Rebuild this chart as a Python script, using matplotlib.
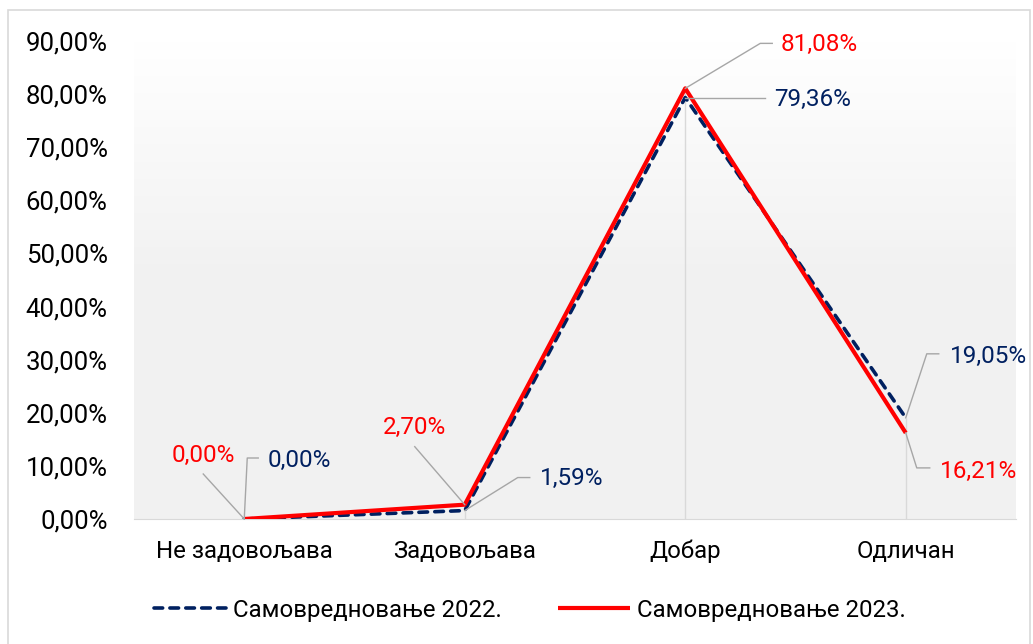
# Самовредновање 2022. vs 2023. - line chart with leader-line data labels
import numpy as np
import matplotlib.pyplot as plt
from matplotlib.patches import Rectangle
from matplotlib.transforms import ScaledTranslation

categories = ['Не задовољава', 'Задовољава', 'Добар', 'Одличан']
vals_2022 = [0.00, 1.59, 79.36, 19.05]
vals_2023 = [0.00, 2.70, 81.08, 16.21]
labels_2022 = ['0,00%', '1,59%', '79,36%', '19,05%']
labels_2023 = ['0,00%', '2,70%', '81,08%', '16,21%']
series_names = ['Самовредновање 2022.', 'Самовредновање 2023.']
y_ticks = [0, 10, 20, 30, 40, 50, 60, 70, 80, 90]

navy = '#002060'
red = '#FF0000'
grey_line = '#A6A6A6'
light = '#D9D9D9'

plt.rcParams['font.family'] = ['Roboto', 'DejaVu Sans']

W, H = 1033, 644
fig = plt.figure(figsize=(W / 100, H / 100), dpi=100)
ax = fig.add_axes([134 / W, 125 / H, 882 / W, 478 / H])

x = np.arange(len(categories))
ax.set_xlim(-0.5, len(categories) - 0.5)
ax.set_ylim(0, 90)

# gradient background of the plot area
g = np.concatenate([np.linspace(1.0, 0.949, 120), np.full(136, 0.949)])
grad = np.stack([g, g, g], axis=-1)[:, None, :].repeat(2, axis=1)
ax.imshow(grad, extent=[0, 1, 0, 1], transform=ax.transAxes, aspect='auto', zorder=0)

# drop lines
tops = np.maximum(vals_2022, vals_2023)
for xi, t in zip(x, tops):
    if t > 0:
        ax.vlines(xi, 0, t, color=light, lw=1, zorder=1)

ax.plot(x, vals_2022, color=navy, lw=2.6, linestyle=(0, (2.4, 2.0)),
        dash_capstyle='round', label=series_names[0], zorder=3)
ax.plot(x, vals_2023, color=red, lw=3.0, solid_capstyle='butt',
        label=series_names[1], zorder=4)

# data labels with leader lines: (elbow dx, elbow dy, end dx, text dx, text dy, ha) in pixels
lead_2022 = [(3, 61, 14, 23, 59, 'left'), (53, 33, 65, 75, 32, 'left'),
             (0, 0, 80, 89, -2, 'left'), (21, 64, 33, 44, 61, 'left')]
lead_2023 = [(-41, 45, -41, -41, 64, 'center'), (-50, 58, -50, -50, 77, 'center'),
             (75, 45, 87, 95, 44, 'left'), (11, -35, 24, 34, -39, 'left')]


def off(dx, dy):
    return ax.transData + ScaledTranslation(dx / 100, dy / 100, fig.dpi_scale_trans)


def put_labels(vals, labels, leads, color):
    for xi, v, lab, (ex, ey, endx, tx, ty, ha) in zip(x, vals, labels, leads):
        pts = [(0, 0), (ex, ey), (endx, ey)]
        px = np.array([ax.transData.transform((xi, v)) + np.array(p) for p in pts])
        inv = ax.transData.inverted().transform(px)
        ax.plot(inv[:, 0], inv[:, 1], color=grey_line, lw=1, zorder=5, clip_on=False)
        ax.text(xi, v, lab, color=color, fontsize=17.5, ha=ha, va='center',
                transform=off(tx, ty), zorder=6)


put_labels(vals_2022, labels_2022, lead_2022, navy)
put_labels(vals_2023, labels_2023, lead_2023, red)

ax.set_xticks(x)
ax.set_xticklabels(categories, fontsize=17.3)
ax.set_yticks(y_ticks)
ax.set_yticklabels([f'{t},00%' for t in y_ticks], fontsize=18.5)
ax.tick_params(axis='both', length=0, colors='black')
ax.tick_params(axis='x', pad=15)
ax.tick_params(axis='y', pad=19)
for s in ['top', 'right', 'left']:
    ax.spines[s].set_visible(False)
ax.spines['bottom'].set_color(light)
ax.spines['bottom'].set_zorder(2)

fig.legend(loc='center', bbox_to_anchor=(0.513, 34 / H), ncol=2, frameon=False,
           fontsize=17.3, handlelength=3.0, handletextpad=0.3, columnspacing=2.3)

fig.add_artist(Rectangle((8 / W, -0.01), 1022 / W, 1 - 10 / H + 0.01,
                         transform=fig.transFigure, fill=False, edgecolor=light, lw=1.2))

fig.savefig('out.png', dpi=100)
